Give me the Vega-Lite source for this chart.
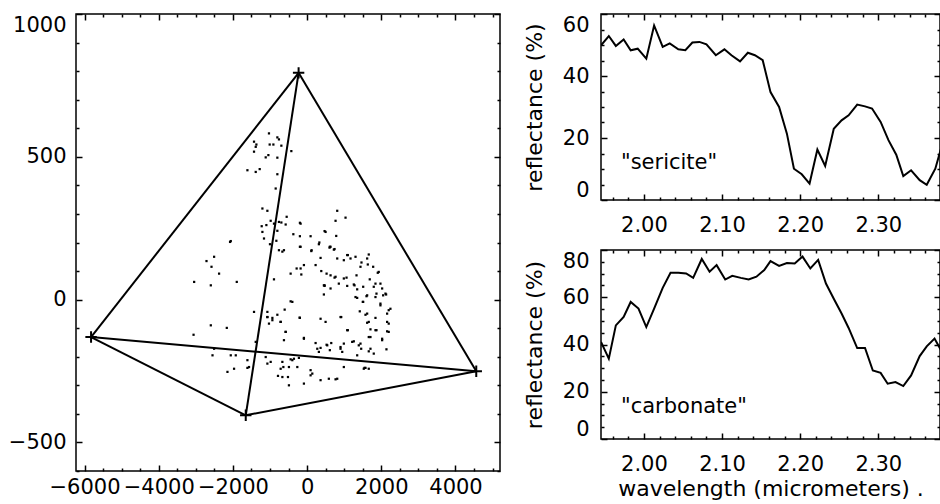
{
  "$schema": "https://vega.github.io/schema/vega-lite/v6.json",
  "padding": {"left": 7, "top": 12, "right": 0, "bottom": 0},
  "background": "white",
  "config": {
    "font": "DejaVu Sans",
    "view": {"stroke": "black", "strokeWidth": 1.5},
    "axis": {"labelFont": "DejaVu Sans", "labelFontSize": 21, "labelColor": "black", "tickColor": "black", "tickWidth": 1.5, "domain": false, "grid": false, "titleFont": "DejaVu Sans", "titleFontSize": 22, "titleFontWeight": "normal", "titleColor": "black", "labelOverlap": false}
  },
  "datasets": {
    "edges": [
      {"x1": -229, "y1": 794, "x2": -5824, "y2": -131},
      {"x1": -229, "y1": 794, "x2": 4560, "y2": -251},
      {"x1": -229, "y1": 794, "x2": -1654, "y2": -405},
      {"x1": -5824, "y1": -131, "x2": 4560, "y2": -251},
      {"x1": -5824, "y1": -131, "x2": -1654, "y2": -405},
      {"x1": -1654, "y1": -405, "x2": 4560, "y2": -251}
    ],
    "verts": [
      {"x": -229, "y": 794}, {"x": -5824, "y": -131}, {"x": -1654, "y": -405}, {"x": 4560, "y": -251}
    ],
    "dots": [
      {"x":-1028,"y":582},{"x":-802,"y":568},{"x":-759,"y":561},{"x":-1431,"y":553},{"x":-1367,"y":543},{"x":-1009,"y":543},{"x":-909,"y":543},{"x":-694,"y":539},{"x":-1385,"y":535},{"x":-1431,"y":518},
      {"x":-425,"y":520},{"x":-1044,"y":506},{"x":-1116,"y":498},{"x":-802,"y":497},{"x":-1609,"y":453},{"x":-1385,"y":447},{"x":-1278,"y":457},{"x":-802,"y":439},{"x":-847,"y":389},{"x":-1205,"y":319},
      {"x":-1071,"y":311},{"x":812,"y":311},{"x":1036,"y":287},{"x":767,"y":276},{"x":-551,"y":290},{"x":-982,"y":276},{"x":-759,"y":272},{"x":-694,"y":270},{"x":-194,"y":269},{"x":-1098,"y":261},
      {"x":-1224,"y":257},{"x":-893,"y":266},{"x":-578,"y":263},{"x":-802,"y":241},{"x":-1205,"y":237},{"x":471,"y":240},{"x":-371,"y":229},{"x":-1162,"y":214},{"x":-194,"y":222},{"x":94,"y":222},
      {"x":785,"y":223},{"x":-2058,"y":205},{"x":-829,"y":206},{"x":-1001,"y":194},{"x":317,"y":194},{"x":-194,"y":185},{"x":605,"y":182},{"x":-759,"y":173},{"x":-624,"y":173},{"x":121,"y":173},
      {"x":721,"y":175},{"x":-667,"y":168},{"x":-175,"y":185},{"x":113,"y":170},{"x":330,"y":200},{"x":613,"y":185},{"x":740,"y":177},{"x":1098,"y":156},{"x":1305,"y":150},{"x":1662,"y":158},
      {"x":1619,"y":144},{"x":1466,"y":130},{"x":1636,"y":123},{"x":1781,"y":115},{"x":1905,"y":94},{"x":363,"y":146},{"x":812,"y":144},{"x":990,"y":138},{"x":-444,"y":91},{"x":-282,"y":109},
      {"x":-86,"y":121},{"x":-156,"y":88},{"x":-893,"y":71},{"x":382,"y":100},{"x":525,"y":91},{"x":632,"y":85},{"x":740,"y":77},{"x":1063,"y":77},{"x":1332,"y":85},{"x":1689,"y":71},
      {"x":1843,"y":56},{"x":855,"y":56},{"x":1081,"y":48},{"x":1259,"y":53},{"x":1350,"y":36},{"x":1512,"y":45},{"x":471,"y":48},{"x":632,"y":39},{"x":2023,"y":39},{"x":1870,"y":21},
      {"x":1350,"y":6},{"x":1501,"y":-8},{"x":1601,"y":12},{"x":2130,"y":18},{"x":452,"y":18},{"x":-444,"y":-6},{"x":1977,"y":-14},{"x":2200,"y":-37},{"x":2157,"y":-49},{"x":1420,"y":-41},
      {"x":1574,"y":-53},{"x":-1431,"y":-43},{"x":-1071,"y":-43},{"x":-802,"y":-53},{"x":-605,"y":-35},{"x":-936,"y":-64},{"x":-194,"y":-64},{"x":920,"y":-61},{"x":1843,"y":-64},{"x":1619,"y":-81},
      {"x":2200,"y":-84},{"x":-1028,"y":-84},{"x":-713,"y":-78},{"x":498,"y":-78},{"x":1708,"y":-104},{"x":1870,"y":-107},{"x":2157,"y":-111},{"x":-578,"y":-113},{"x":1098,"y":-107},{"x":1662,"y":-131},
      {"x":2023,"y":-137},{"x":-86,"y":-137},{"x":-624,"y":-142},{"x":229,"y":-152},{"x":363,"y":-169},{"x":525,"y":-158},{"x":651,"y":-152},{"x":317,"y":-183},{"x":613,"y":-177},{"x":901,"y":-166},
      {"x":990,"y":-154},{"x":1259,"y":-146},{"x":1393,"y":-160},{"x":1458,"y":-172},{"x":1662,"y":-181},{"x":1350,"y":-195},{"x":1797,"y":-189},{"x":2139,"y":-174},{"x":947,"y":-183},{"x":-1609,"y":-212},
      {"x":-1116,"y":-201},{"x":-1609,"y":-239},{"x":-1071,"y":-224},{"x":-640,"y":-236},{"x":-398,"y":-212},{"x":-264,"y":-236},{"x":94,"y":-247},{"x":140,"y":-259},{"x":-667,"y":-271},{"x":586,"y":-277},
      {"x":1547,"y":-239},{"x":1662,"y":-242},{"x":812,"y":-277},{"x":-2712,"y":135},{"x":-2507,"y":150},{"x":-2577,"y":115},{"x":-2373,"y":91},{"x":-2596,"y":50},{"x":-3045,"y":62},{"x":-1896,"y":62},
      {"x":-2077,"y":202},{"x":-2596,"y":-90},{"x":-2165,"y":-99},{"x":-3061,"y":-123},{"x":-2507,"y":-172},{"x":-2550,"y":-195},{"x":-2058,"y":-195},{"x":-2147,"y":-253},{"x":-1969,"y":-242},{"x":-1566,"y":-236},
      {"x":-1385,"y":-148},{"x":-982,"y":-218},{"x":-667,"y":-218},{"x":-444,"y":-209},{"x":-221,"y":-204},{"x":-713,"y":-242},{"x":-490,"y":-236},{"x":-785,"y":-267},{"x":-516,"y":-271},{"x":-490,"y":-300},
      {"x":-86,"y":-294},{"x":94,"y":-265},{"x":363,"y":-282},{"x":767,"y":-279},{"x":990,"y":-236},{"x":1574,"y":-239},{"x":-1923,"y":-195},{"x":1081,"y":156},{"x":1439,"y":115},{"x":1931,"y":97},
      {"x":1977,"y":56},{"x":2112,"y":21},{"x":1843,"y":9},{"x":2200,"y":-113},{"x":1708,"y":-172},{"x":1170,"y":144},{"x":2246,"y":-32},{"x":2157,"y":-78},{"x":1528,"y":-242},{"x":-355,"y":-207},
      {"x":-1071,"y":-61},{"x":-175,"y":266},{"x":498,"y":237},{"x":632,"y":185},
      {"x":-175,"y":109},{"x":229,"y":121},{"x":471,"y":50},{"x":767,"y":80},{"x":990,"y":74},{"x":1278,"y":50},{"x":1305,"y":9},{"x":1512,"y":-8},{"x":1619,"y":15},{"x":1797,"y":45},
      {"x":2050,"y":15},{"x":1977,"y":-20},{"x":1619,"y":-49},{"x":1662,"y":-78},{"x":1843,"y":-107},{"x":2023,"y":-142},{"x":1708,"y":-131},{"x":1439,"y":-154},{"x":1216,"y":-148},{"x":901,"y":-172},
      {"x":543,"y":-160},{"x":274,"y":-172},{"x":-86,"y":-134},{"x":-578,"y":-113},{"x":-1071,"y":-61},{"x":-936,"y":-72},{"x":-713,"y":-78},{"x":-202,"y":-63},{"x":363,"y":-67},{"x":901,"y":-61},
      {"x":1081,"y":-107},{"x":-398,"y":-8},{"x":452,"y":50}
    ],
    "sericite": [
      {"wl":1.945,"r":49.9},{"wl":1.955,"r":52.9},{"wl":1.964,"r":49.7},{"wl":1.974,"r":51.8},{"wl":1.983,"r":48.3},{"wl":1.992,"r":48.8},{"wl":2.003,"r":45.6},{"wl":2.013,"r":56.3},{"wl":2.024,"r":49.4},{"wl":2.033,"r":50.5},
      {"wl":2.044,"r":48.6},{"wl":2.053,"r":48.3},{"wl":2.062,"r":50.8},{"wl":2.071,"r":51.0},{"wl":2.080,"r":50.2},{"wl":2.092,"r":46.7},{"wl":2.103,"r":48.6},{"wl":2.112,"r":46.7},{"wl":2.123,"r":44.7},{"wl":2.133,"r":47.5},
      {"wl":2.142,"r":46.7},{"wl":2.152,"r":45.1},{"wl":2.162,"r":34.8},{"wl":2.173,"r":30.0},{"wl":2.183,"r":21.4},{"wl":2.192,"r":10.1},{"wl":2.202,"r":8.3},{"wl":2.212,"r":5.3},{"wl":2.222,"r":16.3},{"wl":2.232,"r":11.0},
      {"wl":2.243,"r":23.0},{"wl":2.253,"r":25.7},{"wl":2.262,"r":27.3},{"wl":2.273,"r":30.8},{"wl":2.283,"r":30.2},{"wl":2.292,"r":29.5},{"wl":2.303,"r":25.2},{"wl":2.313,"r":19.3},{"wl":2.323,"r":14.6},{"wl":2.332,"r":7.7},
      {"wl":2.342,"r":9.6},{"wl":2.353,"r":6.4},{"wl":2.362,"r":4.9},{"wl":2.373,"r":10.1},{"wl":2.383,"r":19.0}
    ],
    "carbonate": [
      {"wl":1.945,"r":41.1},{"wl":1.955,"r":34.0},{"wl":1.964,"r":48.1},{"wl":1.974,"r":51.7},{"wl":1.983,"r":58.0},{"wl":1.993,"r":55.2},{"wl":2.003,"r":47.4},{"wl":2.013,"r":55.2},{"wl":2.024,"r":64.0},{"wl":2.034,"r":70.4},
      {"wl":2.044,"r":70.4},{"wl":2.054,"r":70.1},{"wl":2.063,"r":68.2},{"wl":2.074,"r":76.2},{"wl":2.084,"r":70.8},{"wl":2.093,"r":73.6},{"wl":2.104,"r":67.5},{"wl":2.113,"r":69.1},{"wl":2.124,"r":68.2},{"wl":2.134,"r":67.5},
      {"wl":2.144,"r":68.7},{"wl":2.154,"r":71.5},{"wl":2.162,"r":75.3},{"wl":2.173,"r":73.3},{"wl":2.183,"r":74.5},{"wl":2.193,"r":74.3},{"wl":2.203,"r":77.2},{"wl":2.213,"r":72.2},{"wl":2.223,"r":75.8},{"wl":2.233,"r":65.8},
      {"wl":2.243,"r":59.4},{"wl":2.253,"r":53.1},{"wl":2.262,"r":47.0},{"wl":2.273,"r":38.5},{"wl":2.283,"r":38.5},{"wl":2.293,"r":29.0},{"wl":2.303,"r":28.0},{"wl":2.312,"r":23.4},{"wl":2.322,"r":24.1},{"wl":2.332,"r":22.4},
      {"wl":2.342,"r":26.9},{"wl":2.353,"r":35.1},{"wl":2.362,"r":39.2},{"wl":2.372,"r":42.5},{"wl":2.383,"r":36.0}
    ]
  },
  "hconcat": [
    {
      "width": 424,
      "height": 457,
      "layer": [
        {
          "data": {"name": "edges"},
          "mark": {"type": "rule", "color": "black", "strokeWidth": 2},
          "encoding": {
            "x": {"field": "x1", "type": "quantitative", "scale": {"domain": [-6230, 5200], "nice": false, "zero": false},
              "axis": {"orient": "bottom", "title": null, "format": "d", "values": [-6000,-5500,-5000,-4500,-4000,-3500,-3000,-2500,-2000,-1500,-1000,-500,0,500,1000,1500,2000,2500,3000,3500,4000,4500,5000],
                "labelExpr": "datum.value % 2000 === 0 ? datum.label : ''",
                "tickSize": {"condition": {"test": "datum.value % 2000 === 0", "value": -6}, "value": -3},
                "labelPadding": 11, "labelFlush": false}},
            "y": {"field": "y1", "type": "quantitative", "scale": {"domain": [-600, 1000], "nice": false, "zero": false},
              "axis": {"orient": "left", "title": null, "format": "d", "values": [-600,-500,-400,-300,-200,-100,0,100,200,300,400,500,600,700,800,900,1000],
                "labelExpr": "datum.value % 500 === 0 ? datum.label : ''",
                "tickSize": {"condition": {"test": "datum.value % 500 === 0", "value": -6}, "value": -3},
                "labelPadding": 16, "labelFlush": true}},
            "x2": {"field": "x2"},
            "y2": {"field": "y2"}
          }
        },
        {
          "data": {"name": "dots"},
          "mark": {"type": "point", "shape": "square", "filled": true, "size": 5, "color": "black", "opacity": 1},
          "encoding": {
            "x": {"field": "x", "type": "quantitative", "scale": {"domain": [-6230, 5200], "nice": false, "zero": false},
              "axis": {"orient": "top", "title": null, "labels": false, "values": [-6000,-5500,-5000,-4500,-4000,-3500,-3000,-2500,-2000,-1500,-1000,-500,0,500,1000,1500,2000,2500,3000,3500,4000,4500,5000],
                "tickSize": {"condition": {"test": "datum.value % 2000 === 0", "value": -6}, "value": -3}}},
            "y": {"field": "y", "type": "quantitative", "scale": {"domain": [-600, 1000], "nice": false, "zero": false},
              "axis": {"orient": "right", "title": null, "labels": false, "values": [-600,-500,-400,-300,-200,-100,0,100,200,300,400,500,600,700,800,900,1000],
                "tickSize": {"condition": {"test": "datum.value % 500 === 0", "value": -6}, "value": -3}}}
          }
        },
        {
          "data": {"name": "verts"},
          "mark": {"type": "point", "shape": "M-1,0H1M0,-1V1", "size": 130, "filled": false, "strokeWidth": 2, "color": "black", "opacity": 1},
          "encoding": {
            "x": {"field": "x", "type": "quantitative", "scale": {"domain": [-6230, 5200], "nice": false, "zero": false}, "axis": null},
            "y": {"field": "y", "type": "quantitative", "scale": {"domain": [-600, 1000], "nice": false, "zero": false}, "axis": null}
          }
        }
      ]
    },
    {
      "spacing": 50,
      "bounds": "flush",
      "vconcat": [
        {
          "width": 339,
          "height": 186,
          "layer": [
            {
              "data": {"name": "sericite"},
              "mark": {"type": "line", "color": "black", "strokeWidth": 2, "clip": true},
              "encoding": {
                "x": {"field": "wl", "type": "quantitative", "scale": {"domain": [1.945, 2.379], "nice": false, "zero": false},
                  "axis": {"orient": "bottom", "title": null, "format": ".2f", "values": [1.96,1.98,2.0,2.02,2.04,2.06,2.08,2.1,2.12,2.14,2.16,2.18,2.2,2.22,2.24,2.26,2.28,2.3,2.32,2.34,2.36],
                    "labelExpr": "abs(datum.value*10 - round(datum.value*10)) < 0.001 ? datum.label : ''",
                    "tickSize": {"condition": {"test": "abs(datum.value*10 - round(datum.value*10)) < 0.001", "value": -6}, "value": -3},
                    "labelPadding": 20, "labelFlush": false}},
                "y": {"field": "r", "type": "quantitative", "scale": {"domain": [0, 60], "nice": false, "zero": false},
                  "axis": {"orient": "left", "title": "reflectance (%)", "titlePadding": 16, "format": "d", "values": [0,5,10,15,20,25,30,35,40,45,50,55,60],
                    "labelExpr": "datum.value % 20 === 0 ? datum.label : ''",
                    "tickSize": {"condition": {"test": "datum.value % 20 === 0", "value": -6}, "value": -3},
                    "labelPadding": 18, "labelFlush": true}}
              }
            },
            {
              "data": {"values": [{"label": "\"sericite\"", "wl": 1.9706, "r": 11.9}]},
              "mark": {"type": "text", "align": "left", "baseline": "middle", "fontSize": 21, "font": "DejaVu Sans", "color": "black"},
              "encoding": {
                "text": {"field": "label"},
                "x": {"field": "wl", "type": "quantitative", "scale": {"domain": [1.945, 2.379], "nice": false, "zero": false},
                  "axis": {"orient": "top", "title": null, "labels": false, "values": [1.96,1.98,2.0,2.02,2.04,2.06,2.08,2.1,2.12,2.14,2.16,2.18,2.2,2.22,2.24,2.26,2.28,2.3,2.32,2.34,2.36],
                    "tickSize": {"condition": {"test": "abs(datum.value*10 - round(datum.value*10)) < 0.001", "value": -6}, "value": -3}}},
                "y": {"field": "r", "type": "quantitative", "scale": {"domain": [0, 60], "nice": false, "zero": false},
                  "axis": {"orient": "right", "title": null, "labels": false, "values": [0,5,10,15,20,25,30,35,40,45,50,55,60],
                    "tickSize": {"condition": {"test": "datum.value % 20 === 0", "value": -6}, "value": -3}}}
              }
            }
          ]
        },
        {
          "width": 339,
          "height": 189,
          "layer": [
            {
              "data": {"name": "carbonate"},
              "mark": {"type": "line", "color": "black", "strokeWidth": 2, "clip": true},
              "encoding": {
                "x": {"field": "wl", "type": "quantitative", "scale": {"domain": [1.945, 2.379], "nice": false, "zero": false},
                  "axis": {"orient": "bottom", "title": "wavelength (micrometers) .", "titlePadding": 1, "format": ".2f", "values": [1.96,1.98,2.0,2.02,2.04,2.06,2.08,2.1,2.12,2.14,2.16,2.18,2.2,2.22,2.24,2.26,2.28,2.3,2.32,2.34,2.36],
                    "labelExpr": "abs(datum.value*10 - round(datum.value*10)) < 0.001 ? datum.label : ''",
                    "tickSize": {"condition": {"test": "abs(datum.value*10 - round(datum.value*10)) < 0.001", "value": -6}, "value": -3},
                    "labelPadding": 20, "labelFlush": false}},
                "y": {"field": "r", "type": "quantitative", "scale": {"domain": [0, 80], "nice": false, "zero": false},
                  "axis": {"orient": "left", "title": "reflectance (%)", "titlePadding": 16, "format": "d", "values": [0,5,10,15,20,25,30,35,40,45,50,55,60,65,70,75,80],
                    "labelExpr": "datum.value % 20 === 0 ? datum.label : ''",
                    "tickSize": {"condition": {"test": "datum.value % 20 === 0", "value": -6}, "value": -3},
                    "labelPadding": 18, "labelFlush": true}}
              }
            },
            {
              "data": {"values": [{"label": "\"carbonate\"", "wl": 1.9706, "r": 13.5}]},
              "mark": {"type": "text", "align": "left", "baseline": "middle", "fontSize": 21, "font": "DejaVu Sans", "color": "black"},
              "encoding": {
                "text": {"field": "label"},
                "x": {"field": "wl", "type": "quantitative", "scale": {"domain": [1.945, 2.379], "nice": false, "zero": false},
                  "axis": {"orient": "top", "title": null, "labels": false, "values": [1.96,1.98,2.0,2.02,2.04,2.06,2.08,2.1,2.12,2.14,2.16,2.18,2.2,2.22,2.24,2.26,2.28,2.3,2.32,2.34,2.36],
                    "tickSize": {"condition": {"test": "abs(datum.value*10 - round(datum.value*10)) < 0.001", "value": -6}, "value": -3}}},
                "y": {"field": "r", "type": "quantitative", "scale": {"domain": [0, 80], "nice": false, "zero": false},
                  "axis": {"orient": "right", "title": null, "labels": false, "values": [0,5,10,15,20,25,30,35,40,45,50,55,60,65,70,75,80],
                    "tickSize": {"condition": {"test": "datum.value % 20 === 0", "value": -6}, "value": -3}}}
              }
            }
          ]
        }
      ]
    }
  ],
  "spacing": 101,
  "bounds": "flush"
}
